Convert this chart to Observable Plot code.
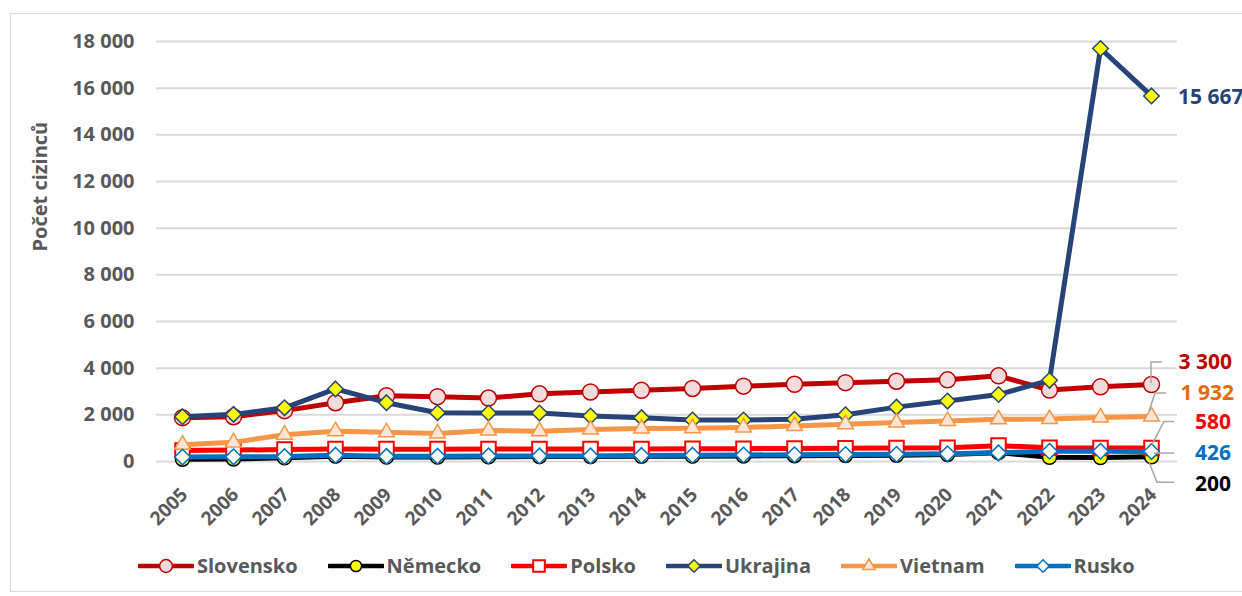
<!DOCTYPE html>
<html><head><meta charset="utf-8">
<script src="https://cdn.jsdelivr.net/npm/d3@7"></script>
<script src="https://cdn.jsdelivr.net/npm/@observablehq/plot@0.6"></script>
<style>
html,body{margin:0;padding:0;background:#fff;}
body{width:1242px;height:596px;position:relative;overflow:hidden;font-family:"Open Sans",sans-serif;}
#frame{position:absolute;left:10px;top:13px;width:1260px;height:579px;border:1px solid #D9D9D9;box-sizing:border-box;}
#chart{position:absolute;left:0;top:0;}
#legend{position:absolute;left:138px;top:552px;height:28px;display:flex;align-items:center;gap:30px;}
.item{display:flex;align-items:center;}
.item span{margin-left:3px;font-size:20px;font-weight:700;color:#595959;line-height:28px;}
</style></head><body>
<div id="frame"></div><div id="chart"></div><div id="legend"></div>
<script>
// ---- data ----
const years = [2005,2006,2007,2008,2009,2010,2011,2012,2013,2014,2015,2016,2017,2018,2019,2020,2021,2022,2023,2024];
const seriesNames = ["Slovensko","Německo","Polsko","Ukrajina","Vietnam","Rusko"];
const slovensko = [1880,1920,2180,2520,2820,2780,2720,2900,2980,3050,3130,3230,3310,3380,3440,3500,3670,3060,3200,3300];
const nemecko   = [100,110,160,230,190,190,200,210,210,220,230,240,250,260,270,300,380,180,170,200];
const polsko    = [470,490,510,540,530,530,540,540,540,540,550,550,560,570,580,590,680,590,580,580];
const ukrajina  = [1920,2020,2300,3110,2520,2090,2080,2080,1950,1880,1780,1780,1810,2000,2330,2590,2870,3480,17700,15667];
const vietnam   = [720,820,1150,1300,1250,1200,1330,1300,1370,1410,1430,1460,1520,1600,1670,1740,1810,1820,1890,1932];
const rusko     = [190,200,210,270,220,230,240,240,240,260,270,280,290,300,310,330,370,440,440,426];
const yTicks = [0,2000,4000,6000,8000,10000,12000,14000,16000,18000];
const yTitle = "Počet cizinců";

const valuesBySeries = {"Slovensko":slovensko,"Německo":nemecko,"Polsko":polsko,"Ukrajina":ukrajina,"Vietnam":vietnam,"Rusko":rusko};

// ---- styles ----
const styles = {
  "Slovensko": {line:"#C00000", fill:"#F2DCDB", stroke:"#C00000", symbol:"circle",   r:8,   sw:1.5, label:"#C00000"},
  "Německo":   {line:"#000000", fill:"#FFFF00", stroke:"#000000", symbol:"circle",   r:7,   sw:1.5, label:"#000000"},
  "Polsko":    {line:"#FF0000", fill:"#FFFFFF", stroke:"#FF0000", symbol:"square",   r:8.2, sw:2,   label:"#FF0000"},
  "Ukrajina":  {line:"#264478", fill:"#FFFF00", stroke:"#264478", symbol:"diamond2", r:7,   sw:1.5, label:"#264478"},
  "Vietnam":   {line:"#F79646", fill:"#FCE4D6", stroke:"#F79646", symbol:"triangle", r:5.8, sw:1.5, label:"#E46C0A"},
  "Rusko":     {line:"#0070C0", fill:"#FFFFFF", stroke:"#0070C0", symbol:"diamond2", r:7,   sw:1.5, label:"#0070C0"}
};
// label callout layout (pixel offsets from the last point)
const callouts = {
  "Slovensko": {start:[0,-1],  elbow:[0,-22],  end:[11,-22],  textDx:81, textDy:-22},
  "Vietnam":   {start:[-2,-5], elbow:[4,-23],  end:[15,-23],  textDx:83, textDy:-23},
  "Polsko":    {start:[1,-3],  elbow:[13,-26], end:[23,-26],  textDx:80, textDy:-26},
  "Rusko":     {start:[3,2],   elbow:[13,2],   end:[23,2],    textDx:80, textDy:2},
  "Německo":   {start:[-2,6],  elbow:[6,26],   end:[23,26],   textDx:80, textDy:27}
};

const fmt = d => d3.format(",")(d).replace(/,/g, " ");
const rows = seriesNames.flatMap(s => years.map((y,i) => ({series:s, year:y, value:valuesBySeries[s][i]})));

const seriesMarks = seriesNames.flatMap(s => {
  const st = styles[s];
  const data = rows.filter(d => d.series === s);
  return [
    Plot.line(data, {x:"year", y:"value", stroke:st.line, strokeWidth:5, strokeLinejoin:"round"}),
    Plot.dot(data, {x:"year", y:"value", symbol:st.symbol, r:st.r, fill:st.fill, stroke:st.stroke, strokeWidth:st.sw})
  ];
});

function calloutMark(index, scales) {
  const g = d3.create("svg:g").attr("font-family","Open Sans, sans-serif").attr("font-weight",700).attr("font-size",21);
  const lastYear = years[years.length-1];
  for (const s of Object.keys(callouts)) {
    const c = callouts[s];
    const v = valuesBySeries[s][years.length-1];
    const px = scales.x(lastYear), py = scales.y(v);
    g.append("path")
      .attr("d", `M${px+c.start[0]},${py+c.start[1]}L${px+c.elbow[0]},${py+c.elbow[1]}L${px+c.end[0]},${py+c.end[1]}`)
      .attr("fill","none").attr("stroke","#A6A6A6").attr("stroke-width",1.5);
    g.append("text").attr("x", px+c.textDx).attr("y", py+c.textDy).attr("dy","0.35em")
      .attr("text-anchor","end").attr("fill", styles[s].label).text(fmt(v));
  }
  const uv = ukrajina[years.length-1];
  g.append("text").attr("x", scales.x(lastYear)+27).attr("y", scales.y(uv)+1).attr("dy","0.35em")
    .attr("text-anchor","start").attr("fill", styles["Ukrajina"].label).text(fmt(uv));
  return g.node();
}

const chart = Plot.plot({
  width: 1242, height: 530,
  marginTop: 41, marginBottom: 69, marginLeft: 156, marginRight: 65,
  style: {fontFamily: "Open Sans, sans-serif", background: "transparent", overflow: "visible"},
  x: {type: "point", domain: years, padding: 0.5, axis: null},
  y: {domain: [0, 18000]},
  marks: [
    Plot.gridY(yTicks, {stroke:"#D9D9D9", strokeWidth:2, strokeOpacity:1}),
    Plot.axisY(yTicks, {tickSize:0, tickPadding:22, tickFormat:fmt, fontSize:20, fontWeight:700, fill:"#595959", label:null}),
    Plot.text([yTitle], {frameAnchor:"left", dx:-116, rotate:-90, fontSize:20, fontWeight:700, fill:"#595959"}),
    Plot.text(years, {x:d=>d, frameAnchor:"bottom", rotate:-45, textAnchor:"end", lineAnchor:"middle", dx:2, dy:30, fontSize:19, fontWeight:700, fill:"#595959", text:d=>String(d)}),
    ...seriesMarks,
    calloutMark
  ]
});
document.getElementById("chart").appendChild(chart);

// legend
const legend = d3.select("#legend");
for (const s of seriesNames) {
  const st = styles[s];
  const item = legend.append("div").attr("class","item");
  const svg = item.append("svg").attr("width",56).attr("height",24);
  svg.append("line").attr("x1",1).attr("x2",55).attr("y1",12).attr("y2",12)
    .attr("stroke",st.line).attr("stroke-width",4.5).attr("stroke-linecap","round");
  const symMap = {circle:d3.symbolCircle, square:d3.symbolSquare, diamond2:d3.symbolDiamond2, triangle:d3.symbolTriangle};
  const rr = st.r*0.8;
  svg.append("path").attr("transform","translate(28,12)")
    .attr("d", d3.symbol(symMap[st.symbol], Math.PI*rr*rr)())
    .attr("fill",st.fill).attr("stroke",st.stroke).attr("stroke-width",st.sw);
  item.append("span").text(s);
}
</script>
</body></html>
